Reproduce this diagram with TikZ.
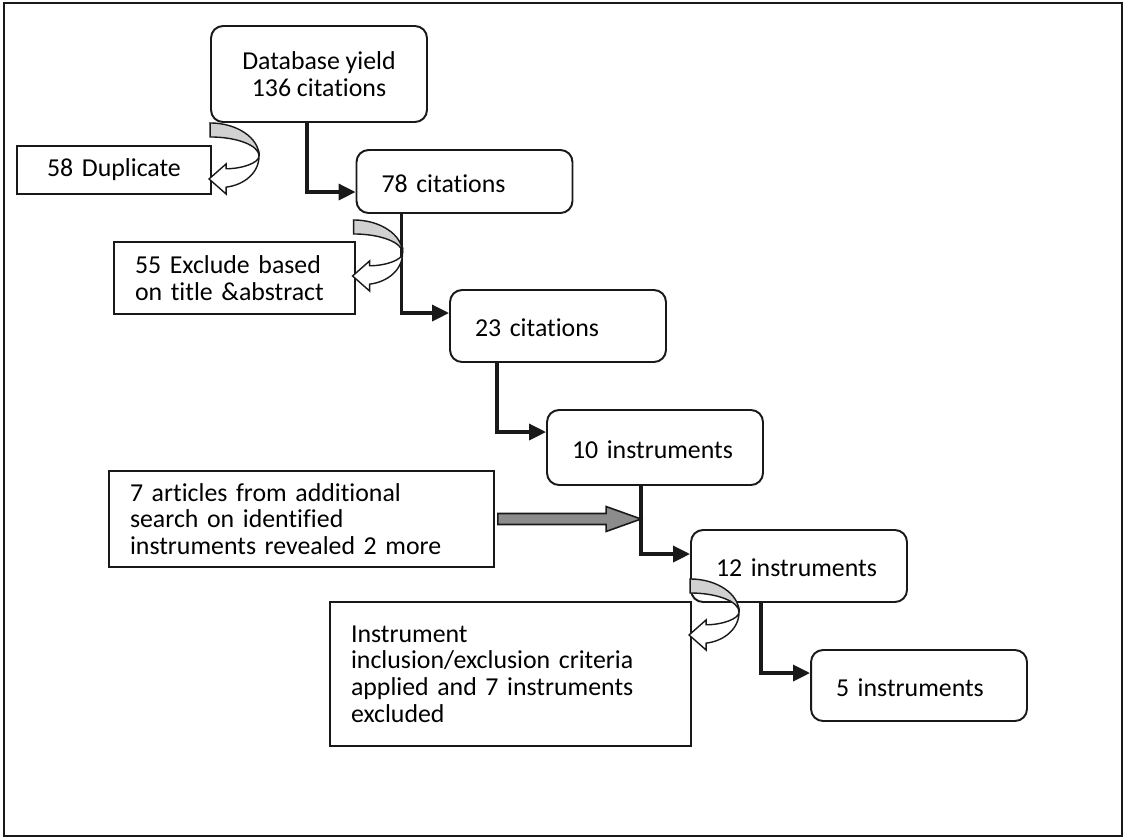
\documentclass[tikz,border=0pt]{standalone}
\usepackage{fontspec}
\setmainfont{Carlito}[Ligatures=CommonOff]
\usetikzlibrary{arrows.meta,calc}

% curved exclusion arrow, drawn from the top left of its band
\newcommand{\excludearrow}[1]{%
  \begin{scope}[shift={(#1)}]
    \filldraw[band] (0,0) .. controls (27,0) and (49,15) .. (49,33)
      .. controls (49,22.5) and (27,14) .. (0,14) -- cycle;
    \filldraw[turn] (49,33) .. controls (49,40) and (32,45.8) .. (16,45.8)
      -- (16,41) -- (-1,56) -- (16,71) -- (16,64.2)
      .. controls (34,62) and (49,50) .. (49,33) -- cycle;
  \end{scope}}

\begin{document}
\begin{tikzpicture}[x=0.02cm, y=-0.02cm,
  font=\fontsize{14.7}{15.1}\selectfont,
  topbox/.style={draw=black!90, line width=1.1pt, rounded corners=0.24cm,
                 align=center, inner sep=0pt},
  countbox/.style={draw=black!90, line width=1.1pt, rounded corners=0.24cm,
                   text width=3.32cm, inner xsep=0.5cm, inner ysep=0pt,
                   align=left, text height=12.5pt, text depth=0pt},
  sidebox/.style={draw=black!90, line width=1.1pt, align=left,
                  inner xsep=0.42cm, inner ysep=0pt},
  flow/.style={-{Triangle[length=0.34cm,width=0.32cm]}, line width=2pt, black!90},
  fatarrow/.style={fill=black!45, draw=black!90, line width=0.9pt},
  band/.style={fill=black!18, draw=black!90, line width=0.8pt},
  turn/.style={fill=white, draw=black!90, line width=0.8pt}
]
  \useasboundingbox (0,0) rectangle (1125,839);
  \draw[line width=1.1pt, black!90] (4,3) rectangle (1122,836);

  % main column
  \node[topbox, minimum width=4.32cm, minimum height=1.92cm] (db) at (319,74)
    {Database yield\\136 citations};
  \node[countbox, minimum height=1.26cm] (c78) at (464.5,181.5) {78 citations};
  \node[countbox, minimum height=1.44cm] (c23) at (558,326) {23 citations};
  \node[countbox, minimum height=1.5cm] (i10) at (655,447.5) {10 instruments};
  \node[countbox, minimum height=1.44cm] (i12) at (799,566) {12 instruments};
  \node[countbox, minimum height=1.42cm] (i5) at (919,685.5) {5 instruments};

  % side boxes
  \node[sidebox, align=center, text width=3.04cm, minimum height=0.96cm] (dup)
    at (114,170) {58 Duplicate};
  \node[sidebox, text width=3.98cm, minimum height=1.44cm] (excl)
    at (234.5,278) {55 Exclude based\\on title \&abstract};
  \node[sidebox, text width=6.86cm, minimum height=1.92cm] (art)
    at (301.5,519) {7 articles from additional\\search on identified\\instruments revealed 2 more};
  \node[sidebox, text width=6.38cm, minimum height=2.88cm] (crit)
    at (510.5,674) {Instrument\\inclusion/exclusion criteria\\applied and 7 instruments\\excluded};

  % flow
  \draw[flow] ([xshift=1.94cm]db.south west) |- ([yshift=-0.86cm]c78.north west);
  \draw[flow] ([xshift=0.92cm]c78.south west) |- ([yshift=-0.48cm]c23.north west);
  \draw[flow] ([xshift=0.96cm]c23.south west) |- ([yshift=-0.46cm]i10.north west);
  \draw[flow] ([xshift=1.9cm]i10.south west) coordinate (i10x)
    |- ([yshift=-0.5cm]i12.north west);
  \draw[flow] ([xshift=1.42cm]i12.south west) |- ([yshift=-0.48cm]i5.north west);

  % added articles
  \coordinate (merge) at (i10x |- art.east);
  \filldraw[fatarrow] ($(art.east)+(3,-5.5)$) -- ($(merge)+(-35,-5.5)$)
    -- ($(merge)+(-35,-12.5)$) -- (merge) -- ($(merge)+(-35,12.5)$)
    -- ($(merge)+(-35,5.5)$) -- ($(art.east)+(3,5.5)$) -- cycle;

  % exclusions
  \excludearrow{db.south west}
  \excludearrow{[xshift=-0.04cm,yshift=-0.12cm]c78.south west}
  \excludearrow{[yshift=0.48cm]i12.south west}
\end{tikzpicture}
\end{document}
